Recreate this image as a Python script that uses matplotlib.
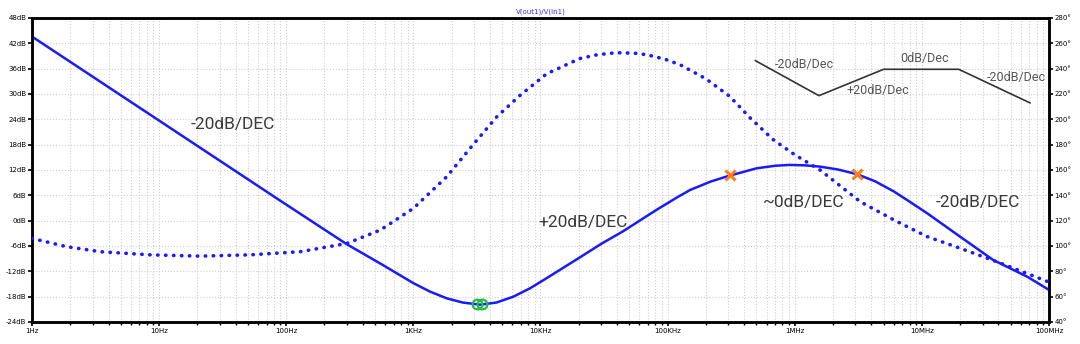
import numpy as np
import matplotlib.pyplot as plt
from matplotlib.ticker import FixedLocator, LogLocator, NullFormatter

# Magnitude trace V(out1)/V(in1)
mag_freq = [1, 10, 89, 300, 560, 1000, 1350, 1830, 2450, 3350, 4500, 6120, 8300,
            11200, 20400, 30000, 44700, 82200, 120000, 151000, 220000, 302000, 501000,
            700000, 912000, 1200000, 1580000, 2200000, 3090000, 4300000, 6030000,
            8100000, 11000000, 20000000, 36300000, 67600000, 100000000]
mag_db = [43.6, 23.7, 4.8, -5.6, -10.3, -14.8, -16.8, -18.4, -19.4, -19.9, -19.4, -18.0, -16.0,
          -13.6, -8.7, -5.5, -2.5, 2.6, 5.6, 7.3, 9.3, 10.6, 12.4,
          13.0, 13.2, 13.1, 12.8, 12.1, 11.0, 9.3, 6.9,
          4.4, 1.75, -3.8, -9.3, -13.3, -16.4]

# Phase trace (right axis, degrees)
ph_freq = [1, 1.86, 3.43, 8.5, 20.9, 51.9, 129, 299, 550, 1000, 1830, 2950, 4530,
           6920, 11200, 20400, 28000, 39800, 55000, 68500, 95000, 126000, 200000,
           309000, 447000, 676000, 1000000, 1580000, 3270000, 6030000, 11000000,
           20000000, 41700000, 100000000]
ph_deg = [106, 99.5, 95.5, 93, 92, 93, 95.5, 102, 112.6, 129.7, 154.7, 180, 202,
          219, 236, 248, 251, 252.6, 252.2, 251, 247.5, 243, 232,
          218, 201, 184, 172, 160, 135, 120.5, 107.4,
          98.2, 86.4, 71.5]

# cursors
green_freq = [3160, 3470]
green_db = [-19.7, -19.7]
orange_freq = [309000, 3090000]
orange_db = [10.7, 11.0]

# slope annotations on the main curve
ann_text = ["-20dB/DEC", "+20dB/DEC", "~0dB/DEC", "-20dB/DEC"]
ann_freq = [38, 21600, 1170000, 27500000]
ann_db = [22.7, -0.5, 4.4, 4.2]

# small asymptote sketch in the top right
sketch_freq = [490000, 1550000, 5000000, 19500000, 70800000]
sketch_db = [37.9, 29.6, 35.85, 35.85, 27.9]
sketch_text = ["-20dB/Dec", "+20dB/Dec", "0dB/Dec", "-20dB/Dec"]
sketch_tfreq = [1200000, 4470000, 10500000, 55000000]
sketch_tdb = [36.9, 30.9, 38.3, 33.9]

x_ticks = [1, 10, 100, 1e3, 1e4, 1e5, 1e6, 1e7, 1e8]
x_labels = ["1Hz", "10Hz", "100Hz", "1KHz", "10KHz", "100KHz", "1MHz", "10MHz", "100MHz"]
db_ticks = list(range(-24, 49, 6))
deg_ticks = list(range(40, 281, 20))

blue = "#1a1aff"

fig = plt.figure(figsize=(10.8, 3.44), dpi=100)
ax = fig.add_axes([0.0296, 0.064, 0.9417, 0.8837])
ax2 = ax.twinx()

ax.set_xscale("log")
ax.set_xlim(1, 1e8)
ax.set_ylim(-24, 48)
ax2.set_ylim(40, 280)

ax.plot(mag_freq, mag_db, color=blue, lw=1.8, zorder=3, solid_joinstyle="round")
ax2.plot(ph_freq, ph_deg, color=blue, lw=2.6, linestyle=(0, (0.1, 2.1)),
         dash_capstyle="round", zorder=3)

ax.plot(green_freq, green_db, "o", ms=7, mfc="none", mec="#22bb44", mew=1.6, zorder=4)
ax.plot(orange_freq, orange_db, "x", ms=7, color="#ff7f1a", mew=2.2, zorder=4)

for t, f, d in zip(ann_text, ann_freq, ann_db):
    ax.text(f, d, t, fontsize=12.5, color="#3a3a3a", ha="center", va="center",
            family="Roboto")

ax.plot(sketch_freq, sketch_db, color="#333333", lw=1.2, zorder=3)
for t, f, d in zip(sketch_text, sketch_tfreq, sketch_tdb):
    ax.text(f, d, t, fontsize=9, color="#555555", ha="center", va="center",
            family="Roboto")

# ticks and grid
ax.xaxis.set_major_locator(FixedLocator(x_ticks))
ax.set_xticklabels(x_labels)
ax.xaxis.set_minor_locator(LogLocator(base=10, subs=np.arange(2, 10), numticks=20))
ax.xaxis.set_minor_formatter(NullFormatter())
ax.set_yticks(db_ticks)
ax.set_yticklabels([f"{v}dB" for v in db_ticks])
ax2.set_yticks(deg_ticks)
ax2.set_yticklabels([f"{v}°" for v in deg_ticks])

ax.tick_params(axis="both", which="major", labelsize=5, length=3, width=1.2,
               direction="out", pad=1)
ax.tick_params(axis="x", which="minor", length=2, width=1)
ax2.tick_params(axis="y", labelsize=5, length=3, width=1.2, direction="out", pad=1)

ax.grid(True, which="both", axis="x", color="#cfcfcf", ls=":", lw=0.8)
ax.grid(True, which="major", axis="y", color="#cfcfcf", ls=":", lw=0.8)
ax.set_axisbelow(True)

for a in (ax, ax2):
    for s in a.spines.values():
        s.set_linewidth(1.8)

ax.set_title("V(out1)/V(in1)", fontsize=5, color="#3333ff", pad=3)

fig.savefig("out.png", dpi=100)
